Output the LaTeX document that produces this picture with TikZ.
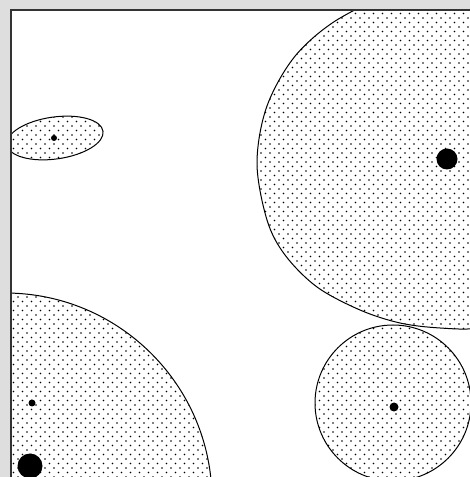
\documentclass[tikz,border=0pt]{standalone}
\usetikzlibrary{patterns}
\pgfdeclarepatternformonly{refdots}{\pgfpoint{-1pt}{-1pt}}{\pgfpoint{10pt}{10pt}}{\pgfpoint{9pt}{9pt}}{%
  \pgfpathcircle{\pgfpoint{0pt}{0pt}}{0.85pt}%
  \pgfpathcircle{\pgfpoint{4.5pt}{4.5pt}}{0.85pt}%
  \pgfusepath{fill}}
\definecolor{bggray}{HTML}{DEDEDE}
\definecolor{framegray}{HTML}{333333}
\tikzset{
  region/.style={pattern=refdots, pattern color=black, draw=black, line width=1pt},
  core/.style={fill=black, draw=none}
}
\begin{document}
\begin{tikzpicture}[x=1pt,y=1pt]
\useasboundingbox (0,0) rectangle (470,477);
\fill[bggray] (0,0) rectangle (470,477);
\fill[white] (11,0) rectangle (470,466.5);
\begin{scope}
  \clip (11.5,0) rectangle (470,466);
  % top-right region
  \path[region] plot[smooth cycle, tension=0.55] coordinates {
    (396,479) (341,459.5) (296,422) (267,371) (257,314) (267,257)
    (285,222) (317,190) (360,167) (400,154) (440,149) (480,149)
    (530,162) (575,217) (595,314) (570,417) (500,472)};
  % small ellipse
  \path[region] (55,339) ellipse[x radius=48.5, y radius=21, rotate=8];
  % bottom-left circle
  \path[region] (5,-23) circle[radius=207];
  % bottom-right circle
  \path[region] (393,74) circle[radius=78];
  % cores
  \fill[core] (447,318) coordinate (c1) circle[radius=10.5];
  \fill[core] (54,339) coordinate (c2) circle[radius=3];
  \fill[core] (32,74) coordinate (c3) circle[radius=3.5];
  \fill[core] (30,11) coordinate (c4) circle[radius=12.5];
  \fill[core] (394,70) coordinate (c5) circle[radius=4.5];
\end{scope}
\draw[framegray, line width=2pt] (10.5,0) -- (10.5,466.5) -- (470,466.5);
\end{tikzpicture}
\end{document}
